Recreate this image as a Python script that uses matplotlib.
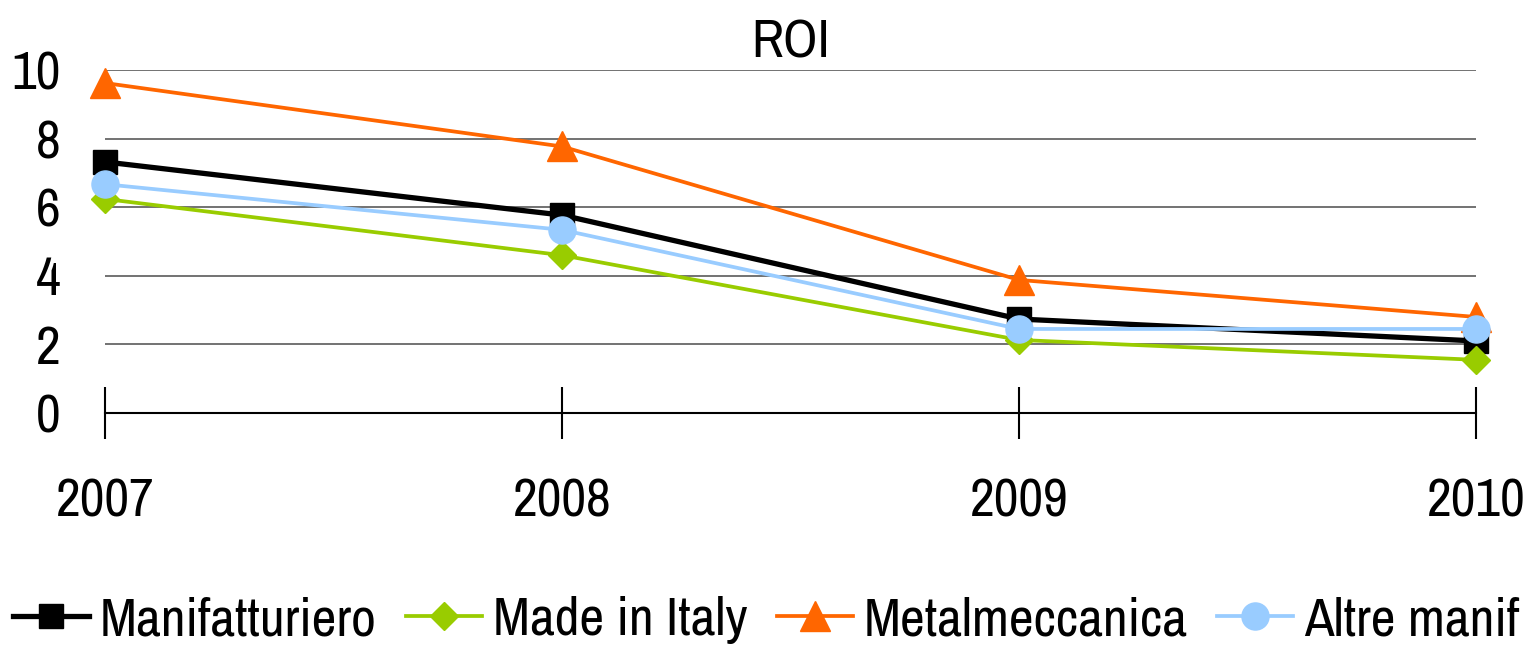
import matplotlib
matplotlib.use("Agg")
import matplotlib.pyplot as plt
from matplotlib import font_manager

years = ["2007", "2008", "2009", "2010"]
manifatturiero = [7.32, 5.77, 2.74, 2.10]
made_in_italy = [6.24, 4.60, 2.13, 1.55]
metalmeccanica = [9.62, 7.77, 3.88, 2.80]
altre_manif = [6.67, 5.34, 2.45, 2.45]
y_ticks = [0, 2, 4, 6, 8, 10]

# pick a narrow sans-serif face
names = {f.name for f in font_manager.fontManager.ttflist}
candidates = ["Liberation Sans Narrow", "Archivo Narrow", "PT Sans Narrow",
              "Roboto Condensed", "Pragati Narrow", "IBM Plex Sans Condensed"]
narrow = next((c for c in candidates if c in names), "DejaVu Sans")
plt.rcParams["font.family"] = [narrow, "DejaVu Sans"]
plt.rcParams["font.weight"] = 500

FS = 39

fig = plt.figure(figsize=(15.32, 6.47), dpi=100)
ax = fig.add_axes([105 / 1532, 1 - 413 / 647, (1476 - 105) / 1532, (413 - 70) / 647])

x = list(range(len(years)))
series = [
    ("Manifatturiero", manifatturiero, "#000000", "s", 17, 3.8),
    ("Made in Italy", made_in_italy, "#99cc00", "D", 14, 2.7),
    ("Metalmeccanica", metalmeccanica, "#ff6600", "^", 21, 2.7),
    ("Altre manif", altre_manif, "#99ccff", "o", 19.5, 2.7),
]
for label, vals, color, marker, ms, lw in series:
    ax.plot(x, vals, color=color, marker=marker, markersize=ms, linewidth=lw,
            label=label, clip_on=False)

ax.set_xlim(0, 3)
ax.set_ylim(0, 10)
ax.set_yticks(y_ticks)
ax.set_yticklabels([str(v) for v in y_ticks], fontsize=FS)
for yv in y_ticks[1:]:
    ax.axhline(yv, color="#5a5a5a", linewidth=1.2, zorder=0)

ax.set_xticks(x)
ax.set_xticklabels(years, fontsize=FS)
ax.tick_params(axis="y", length=0, pad=32)
ax.tick_params(axis="x", direction="inout", length=37, width=1.5, pad=28)

for side in ["top", "right", "left"]:
    ax.spines[side].set_visible(False)
ax.spines["bottom"].set_linewidth(1.5)

ax.set_title("ROI", fontsize=FS, pad=9)

fig.legend(loc="center", bbox_to_anchor=(0.5, 1 - 620 / 647), ncol=4, frameon=False,
           fontsize=FS, handlelength=1.4, columnspacing=0.55, handletextpad=0.2,
           borderpad=0, borderaxespad=0)

fig.savefig("out.png", dpi=100)
